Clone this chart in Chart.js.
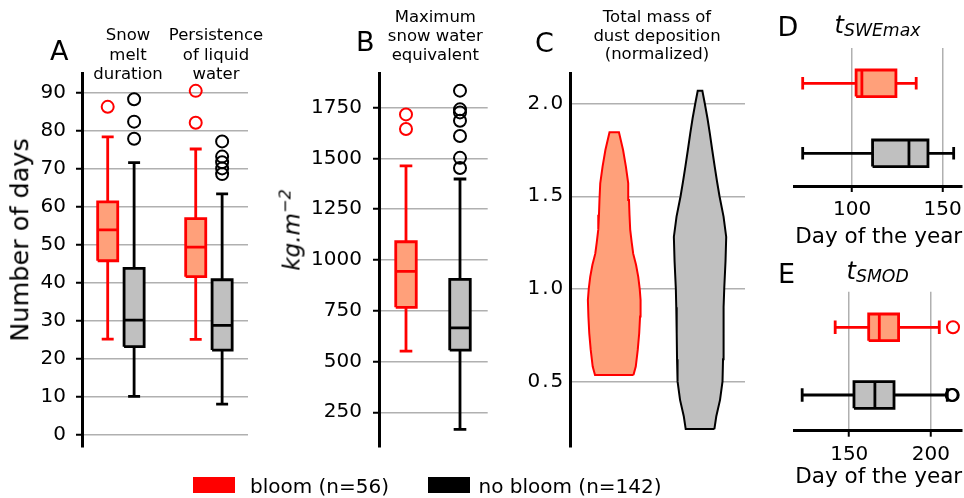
<!DOCTYPE html>
<html>
<head>
<meta charset="utf-8">
<script src="https://cdn.jsdelivr.net/npm/chart.js@4.4.1/dist/chart.umd.min.js"></script>
<style>
  body { margin: 0; background: #fff; }
  #fig { position: relative; width: 964px; height: 498px; overflow: hidden; font-family: 'DejaVu Sans', sans-serif; color: #000; }
  #fig canvas { position: absolute; }
  .t { position: absolute; white-space: nowrap; }
</style>
</head>
<body>
<div id="fig">
  <canvas id="cA" width="260" height="460" style="left:0;top:0"></canvas>
  <canvas id="cB" width="230" height="460" style="left:270px;top:0"></canvas>
  <canvas id="cC" width="260" height="460" style="left:500px;top:0"></canvas>
  <canvas id="cD" width="184" height="230" style="left:780px;top:0"></canvas>
  <canvas id="cE" width="184" height="230" style="left:780px;top:250px"></canvas>
</div>
<script>
// stats are [whisker low, Q1, median, Q3, whisker high]

// A: number of days (snow melt duration, persistence of liquid water)
const daysBloom = [[25.2, 45.8, 53.9, 61.3, 78.4], [25.1, 41.6, 49.4, 56.9, 75.2]];
const daysNoBloom = [[10.1, 23.2, 30.2, 43.8, 71.6], [8.1, 22.3, 28.8, 40.8, 63.4]];
const daysBloomOut = [[86.3], [90.5, 82.1]];
const daysNoBloomOut = [[88.3, 82.4, 77.9], [77.2, 73.2, 71.7, 70.1, 68.6]];

// B: maximum snow water equivalent (kg m-2)
const sweBloom = [551, 767, 944, 1090, 1464];
const sweNoBloom = [166, 556, 666, 905, 1399];
const sweBloomOut = [1717, 1645];
const sweNoBloomOut = [1834, 1742, 1727, 1686, 1611, 1503, 1453];

// C: dust deposition violins (level, half width)
const dustBloomY = [0.534, 0.58, 0.67, 0.76, 0.85, 0.94, 1.0, 1.065, 1.13, 1.19, 1.25, 1.32, 1.40, 1.48, 1.57, 1.66, 1.75, 1.846];
const dustBloomW = [0.224, 0.251, 0.274, 0.291, 0.301, 0.307, 0.297, 0.280, 0.254, 0.221, 0.204, 0.186, 0.178, 0.172, 0.163, 0.136, 0.103, 0.055];
const dustNoBloomY = [0.242, 0.31, 0.40, 0.50, 0.62, 0.76, 0.90, 1.0, 1.15, 1.28, 1.39, 1.50, 1.58, 1.66, 1.75, 1.84, 1.92, 2.0, 2.07];
const dustNoBloomW = [0.167, 0.189, 0.233, 0.262, 0.268, 0.272, 0.277, 0.282, 0.297, 0.305, 0.274, 0.227, 0.198, 0.171, 0.142, 0.114, 0.087, 0.056, 0.027];

// D: day of SWE max
const tsweBloom = [72.7, 102.2, 105.4, 124.2, 135.4];
const tsweNoBloom = [72.7, 111.3, 131.4, 141.9, 156.1];

// E: snow melt-out day
const smodBloom = [141.4, 161.9, 168.4, 180.2, 205.1];
const smodNoBloom = [121.2, 152.9, 165.7, 177.4, 210.0];
const smodBloomOut = [213.5];
const smodNoBloomOut = [212.7, 213.3];

const RED = '#ff0000', SALMON = '#ffa07a', BLACK = '#000000', SILVER = '#c0c0c0', GRID = '#b0b0b0';
const FONT = "'DejaVu Sans', sans-serif";
const fig = document.getElementById('fig');

// box plot as a closed outline (filled) + whiskers, plus outlier circles
function boxSets(stats, outliers, pos, half, cap, edge, face, horiz) {
  const [lo, q1, med, q3, hi] = stats;
  const P = (p, v) => horiz ? {x: v, y: p} : {x: p, y: v};
  const GAP = {x: null, y: null};
  const outline = [
    P(pos - half, q1), P(pos + half, q1), P(pos + half, q3), P(pos - half, q3), P(pos - half, q1), GAP,
    P(pos - half, med), P(pos + half, med), GAP,
    P(pos, q1), P(pos, lo), GAP, P(pos - cap, lo), P(pos + cap, lo), GAP,
    P(pos, q3), P(pos, hi), GAP, P(pos - cap, hi), P(pos + cap, hi)
  ];
  return [
    {data: outline, showLine: true, fill: 'shape', backgroundColor: face, borderColor: edge,
     borderWidth: 2.8, borderJoinStyle: 'miter', pointRadius: 0, clip: false},
    {data: outliers.map(v => P(pos, v)), showLine: false, pointRadius: 6, pointBorderWidth: 2,
     pointBorderColor: edge, pointBackgroundColor: 'rgba(0,0,0,0)', clip: false}
  ];
}

function violinSet(levels, widths, pos, edge, face) {
  const right = levels.map((y, i) => ({x: pos + widths[i], y}));
  const left = levels.map((y, i) => ({x: pos - widths[i], y})).reverse();
  const pts = right.concat(left, [right[0]]);
  return {data: pts, showLine: true, fill: 'shape', backgroundColor: face, borderColor: edge,
          borderWidth: 2, pointRadius: 0, clip: false};
}

// fixed axis size, no extra room for edge labels
const fixW = w => s => { s.width = w; s.paddingTop = 0; s.paddingBottom = 0; s.paddingLeft = 0; s.paddingRight = 0; };
const fixH = h => s => { s.height = h; s.paddingTop = 0; s.paddingBottom = 0; s.paddingLeft = 0; s.paddingRight = 0; };

function valueAxis(min, max, step, o) {
  return {
    type: 'linear', min, max, position: o.position || 'left',
    afterFit: o.fit,
    border: {color: '#000', width: 3},
    grid: {color: GRID, lineWidth: 1.5, tickColor: '#000', tickWidth: 2, tickLength: 6, drawTicks: o.ticks !== false},
    ticks: {stepSize: step, includeBounds: false, color: '#000', font: {family: FONT, size: 20},
            padding: o.pad, callback: o.fmt, autoSkip: false, maxRotation: 0}
  };
}
const hidden = (min, max) => ({type: 'linear', display: false, min, max});

function makeChart(id, datasets, scales, padding) {
  return new Chart(document.getElementById(id), {
    type: 'scatter',
    data: {datasets},
    options: {
      responsive: false, animation: false, events: [],
      layout: {padding, autoPadding: false},
      plugins: {legend: {display: false}, tooltip: {enabled: false}},
      scales
    }
  });
}

// A
const dsA = [];
[0, 1].forEach(i => {
  dsA.push(...boxSets(daysBloom[i], daysBloomOut[i], 0.85 + i, 0.114, 0.068, RED, SALMON, false));
  dsA.push(...boxSets(daysNoBloom[i], daysNoBloomOut[i], 1.15 + i, 0.114, 0.068, BLACK, SILVER, false));
});
makeChart('cA', dsA, {
  x: hidden(0.558, 2.444),
  y: valueAxis(-3.2, 95.2, 10, {fit: fixW(82), pad: 10})
}, {top: 73, right: 12, bottom: 13, left: 0});

// B
makeChart('cB', [
  ...boxSets(sweBloom, sweBloomOut, 1, 0.19, 0.117, RED, SALMON, false),
  ...boxSets(sweNoBloom, sweNoBloomOut, 2, 0.19, 0.117, BLACK, SILVER, false)
], {
  x: hidden(0.5, 2.513),
  y: valueAxis(79, 1921, 250, {fit: fixW(109), pad: 11, fmt: v => String(v)})
}, {top: 73, right: 12.3, bottom: 13, left: 0});

// C
makeChart('cC', [
  violinSet(dustBloomY, dustBloomW, 1, RED, SALMON),
  violinSet(dustNoBloomY, dustNoBloomW, 2, BLACK, SILVER)
], {
  x: hidden(0.488, 2.524),
  y: valueAxis(0.147, 2.166, 0.5, {fit: fixW(70.3), pad: 7, ticks: false,
     fmt: v => v.toFixed(1).replace('.', '\u200a.\u200a')})
}, {top: 73, right: 15, bottom: 13.3, left: 0});

// D
makeChart('cD', [
  ...boxSets(tsweBloom, [], 2, 0.19, 0.09, RED, SALMON, true),
  ...boxSets(tsweNoBloom, [], 1, 0.19, 0.09, BLACK, SILVER, true)
], {
  x: valueAxis(67.9, 160.7, 50, {position: 'bottom', fit: fixH(44), pad: 6}),
  y: hidden(0.533, 2.504)
}, {top: 48, right: 2, bottom: 0, left: 14});

// E
makeChart('cE', [
  ...boxSets(smodBloom, smodBloomOut, 2, 0.197, 0.1, RED, SALMON, true),
  ...boxSets(smodNoBloom, smodNoBloomOut, 1, 0.197, 0.1, BLACK, SILVER, true)
], {
  x: valueAxis(116.2, 219, 50, {position: 'bottom', fit: fixH(49.3), pad: 6}),
  y: hidden(0.473, 2.526)
}, {top: 41.7, right: 2, bottom: 0, left: 14});

// text: x, baseline y
function addText(html, x, base, size, o = {}) {
  const lh = o.lh || size;
  const d = document.createElement('div');
  d.className = 't';
  d.innerHTML = html;
  d.style.fontSize = size + 'px';
  d.style.lineHeight = lh + 'px';
  d.style.top = (base - (lh / 2 + 0.346 * size)) + 'px';
  if (o.center) { d.style.left = (x - 150) + 'px'; d.style.width = '300px'; d.style.textAlign = 'center'; }
  else d.style.left = x + 'px';
  if (o.italic) d.style.fontStyle = 'italic';
  fig.appendChild(d);
  return d;
}
function addRotated(html, cx, cy, size, italic) {
  const d = document.createElement('div');
  d.className = 't';
  d.innerHTML = html;
  d.style.fontSize = size + 'px';
  d.style.lineHeight = size + 'px';
  d.style.left = cx + 'px';
  d.style.top = cy + 'px';
  d.style.transform = 'translate(-50%,-50%) rotate(-90deg)';
  if (italic) d.style.fontStyle = 'italic';
  fig.appendChild(d);
}

// panel letters
addText('A', 50, 60, 27);
addText('B', 356, 50.7, 27);
addText('C', 535, 51.7, 27);
addText('D', 777.5, 36, 27);
addText('E', 778, 282.7, 27);

// panel titles
addText('Snow<br>melt<br>duration', 128, 40.7, 16.5, {lh: 19.3, center: true});
addText('Persistence<br>of liquid<br>water', 216, 40.7, 16.5, {lh: 19.3, center: true});
addText('Maximum<br>snow water<br>equivalent', 435.3, 22.7, 16.5, {lh: 19, center: true});
addText('Total mass of<br>dust deposition<br>(normalized)', 657, 23.3, 16.5, {lh: 18.5, center: true});
const sub = s => '<span style="font-size:0.72em;position:relative;top:0.2em;line-height:0">' + s + '</span>';
addText('t' + sub('SWEmax'), 877.5, 33, 24, {center: true, italic: true});
addText('t' + sub('SMOD'), 877.7, 279, 24, {center: true, italic: true});

// axis labels
addRotated('Number of days', 20, 240, 25.5, false);
addRotated('kg.m<sup style="font-size:0.7em;line-height:0">\u22122</sup>', 292, 229.5, 23, true);
addText('Day of the year', 878.7, 243, 21.5, {center: true});
addText('Day of the year', 878.7, 483, 21.5, {center: true});

// legend
function legendItem(color, label, rx, tx) {
  const r = document.createElement('div');
  r.style.cssText = 'position:absolute;left:' + rx + 'px;top:477.3px;width:42px;height:15.4px;background:' + color;
  fig.appendChild(r);
  addText(label, tx, 492.5, 20);
}
legendItem(RED, 'bloom (n=56)', 193.3, 250);
legendItem(BLACK, 'no bloom (n=142)', 428.3, 478.5);
</script>
</body>
</html>
